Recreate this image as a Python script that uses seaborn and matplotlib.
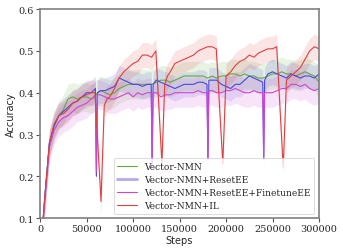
import numpy as np
import pandas as pd
import matplotlib
matplotlib.use("Agg")
import matplotlib.pyplot as plt
import seaborn as sns

# ---- data ----
names = ["Vector-NMN", "Vector-NMN+ResetEE", "Vector-NMN+ResetEE+FinetuneEE", "Vector-NMN+IL"]
colors = ["#62aa3c", "#4848e0", "#d045d0", "#e04040"]
spreads = [0.035, 0.03, 0.035, 0.03]

green_steps = [0, 5000, 10000, 15000, 20000, 25000, 30000, 35000, 40000, 45000, 50000, 55000,
               60000, 65000, 70000, 75000, 80000, 85000, 90000, 95000, 100000, 105000, 110000,
               115000, 120000, 125000, 130000, 135000, 140000, 145000, 150000, 155000, 160000,
               165000, 170000, 175000, 180000, 185000, 190000, 195000, 200000, 205000, 210000,
               215000, 220000, 225000, 230000, 235000, 240000, 245000, 250000, 255000, 260000,
               265000, 270000, 275000, 280000, 285000, 290000, 295000, 300000]
green_acc = [0.0, 0.15, 0.28, 0.32, 0.345, 0.36, 0.385, 0.39, 0.385, 0.39, 0.39, 0.385,
             0.395, 0.405, 0.40, 0.395, 0.40, 0.41, 0.415, 0.42, 0.42, 0.42, 0.42,
             0.42, 0.42, 0.425, 0.43, 0.43, 0.425, 0.43, 0.435, 0.44, 0.44,
             0.44, 0.44, 0.44, 0.435, 0.44, 0.435, 0.44, 0.44, 0.445, 0.445,
             0.44, 0.445, 0.44, 0.44, 0.435, 0.435, 0.44, 0.445, 0.445, 0.45,
             0.445, 0.445, 0.44, 0.445, 0.45, 0.445, 0.44, 0.425]

blue_steps = [0, 5000, 10000, 15000, 20000, 25000, 30000, 35000, 40000, 45000, 50000, 55000,
              59500, 60500, 61500, 65000, 70000, 75000, 80000, 85000, 90000, 95000, 100000,
              105000, 110000, 115000, 119500, 120500, 121500, 125000, 130000, 135000, 140000,
              145000, 150000, 155000, 160000, 165000, 170000, 175000, 179500, 180500, 181500,
              185000, 190000, 195000, 200000, 205000, 210000, 215000, 220000, 225000, 230000,
              235000, 239500, 240500, 241500, 245000, 250000, 255000, 260000, 265000, 270000,
              275000, 280000, 285000, 290000, 295000, 300000]
blue_acc = [0.0, 0.15, 0.28, 0.32, 0.345, 0.355, 0.365, 0.375, 0.38, 0.39, 0.40, 0.40,
            0.41, 0.20, 0.40, 0.405, 0.405, 0.41, 0.415, 0.435, 0.43, 0.425, 0.42,
            0.42, 0.415, 0.42, 0.42, 0.23, 0.42, 0.43, 0.425, 0.42, 0.415,
            0.41, 0.415, 0.42, 0.42, 0.42, 0.425, 0.425, 0.42, 0.24, 0.43,
            0.43, 0.43, 0.42, 0.415, 0.41, 0.42, 0.42, 0.43, 0.44, 0.435,
            0.43, 0.425, 0.24, 0.43, 0.445, 0.45, 0.445, 0.44, 0.435, 0.445,
            0.44, 0.435, 0.44, 0.44, 0.435, 0.445]

magenta_steps = blue_steps
magenta_acc = [0.0, 0.14, 0.27, 0.31, 0.33, 0.34, 0.345, 0.355, 0.365, 0.37, 0.375, 0.385,
               0.39, 0.21, 0.395, 0.395, 0.39, 0.385, 0.385, 0.39, 0.395, 0.40, 0.39,
               0.40, 0.395, 0.40, 0.40, 0.22, 0.40, 0.40, 0.39, 0.395, 0.395,
               0.40, 0.40, 0.40, 0.40, 0.40, 0.405, 0.40, 0.40, 0.24, 0.405,
               0.405, 0.40, 0.40, 0.405, 0.405, 0.41, 0.405, 0.40, 0.40, 0.405,
               0.40, 0.40, 0.24, 0.40, 0.40, 0.40, 0.405, 0.41, 0.41, 0.42,
               0.42, 0.415, 0.42, 0.41, 0.405, 0.41]

red_steps = [0, 5000, 10000, 15000, 20000, 25000, 30000, 35000, 40000, 45000, 50000, 55000,
             59000, 65500, 69000, 72000, 75000, 80000, 85000, 90000, 95000, 100000, 105000,
             110000, 115000, 120000, 124500, 131000, 134000, 137000, 140000, 145000, 150000,
             155000, 160000, 165000, 170000, 175000, 180000, 185000, 189500, 196500, 200000,
             205000, 210000, 215000, 220000, 225000, 230000, 235000, 240000, 245000, 250000,
             254500, 261500, 265000, 270000, 275000, 280000, 285000, 290000, 295000, 300000]
red_acc = [0.0, 0.15, 0.28, 0.325, 0.345, 0.35, 0.36, 0.375, 0.38, 0.39, 0.395, 0.40,
           0.40, 0.14, 0.37, 0.385, 0.39, 0.41, 0.435, 0.45, 0.46, 0.47, 0.475,
           0.49, 0.49, 0.485, 0.50, 0.23, 0.42, 0.44, 0.45, 0.47, 0.475,
           0.48, 0.485, 0.49, 0.50, 0.505, 0.51, 0.51, 0.505, 0.23, 0.44,
           0.45, 0.465, 0.475, 0.48, 0.49, 0.485, 0.495, 0.50, 0.505, 0.505,
           0.51, 0.22, 0.43, 0.44, 0.45, 0.46, 0.48, 0.50, 0.51, 0.505]

series = [(green_steps, green_acc), (blue_steps, blue_acc),
          (magenta_steps, magenta_acc), (red_steps, red_acc)]

frames = []
for name, (s, a) in zip(names, series):
    frames.append(pd.DataFrame({"Steps": s, "Accuracy": a, "method": name}))
df = pd.concat(frames, ignore_index=True)

sns.set_style("white")
plt.rcParams["font.family"] = ["DejaVu Serif"]

fig = plt.figure(figsize=(3.43, 2.53), dpi=100)
ax = fig.add_axes([0.117, 0.134, 0.813, 0.826])

for name, (s, a), c, sp in zip(names, series, colors, spreads):
    a = np.array(a)
    ax.fill_between(s, a - sp, a + sp, color=c, alpha=0.14, linewidth=0)

sns.lineplot(data=df, x="Steps", y="Accuracy", hue="method", palette=colors,
             hue_order=names, estimator=None, linewidth=0.8, ax=ax, sort=False)

ax.set_xlim(0, 300000)
ax.set_ylim(0.1, 0.6)
ax.set_xticks([0, 50000, 100000, 150000, 200000, 250000, 300000])
ax.set_yticks([0.1, 0.2, 0.3, 0.4, 0.5, 0.6])
ax.tick_params(labelsize=7, length=3, width=0.8, color="#555555", direction="out",
               bottom=True, left=True, pad=1.5)
ax.set_xlabel("Steps", fontsize=7, family="DejaVu Sans", labelpad=1)
ax.set_ylabel("Accuracy", fontsize=7, family="DejaVu Sans", labelpad=2)
for sp_ in ax.spines.values():
    sp_.set_color("#808080")
    sp_.set_linewidth(1.2)

leg = ax.legend(loc="lower right", fontsize=6.5, frameon=True, framealpha=0.8,
                handlelength=2.2, borderaxespad=0.5, labelspacing=0.45)
leg.get_frame().set_linewidth(0.6)
# the ResetEE entry is drawn thicker and paler in the reference
leg.get_lines()[1].set_linewidth(2.0)
leg.get_lines()[1].set_color("#b4aaf2")

fig.savefig("out.png", dpi=100)
